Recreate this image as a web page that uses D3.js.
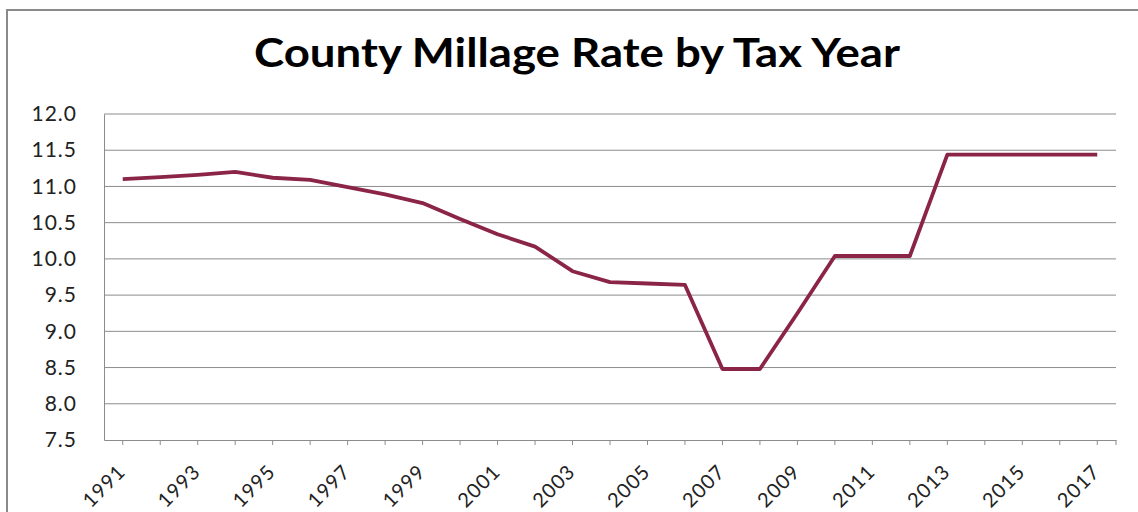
<!DOCTYPE html>
<html>
<head>
  <title>County Millage Rate by Tax Year</title>
  <script src="https://d3js.org/d3.v7.min.js"></script>
  <style>
    body { margin: 0; background: #fff; }
    text { font-family: Lato, "Open Sans", sans-serif; fill: #222; }
  </style>
</head>
<body>
  <div id="chart-container"></div>
  <script>

var years = ["1991","1992","1993","1994","1995","1996","1997","1998","1999","2000",
             "2001","2002","2003","2004","2005","2006","2007","2008","2009","2010",
             "2011","2012","2013","2014","2015","2016","2017"];
var millage = [11.10, 11.13, 11.16, 11.20, 11.12, 11.09, 10.99, 10.89, 10.77, 10.55,
               10.34, 10.17, 9.83, 9.68, 9.66, 9.64, 8.48, 8.48, 9.25, 10.04,
               10.04, 10.04, 11.44, 11.44, 11.44, 11.44, 11.44];
var yTicks = [7.5, 8.0, 8.5, 9.0, 9.5, 10.0, 10.5, 11.0, 11.5, 12.0];
var xLabels = years.filter((d, i) => i % 2 === 0);

var W = 1138, H = 512;
var margin = { top: 114, right: 22, bottom: 72, left: 104 };
var width = W - margin.left - margin.right;
var height = H - margin.top - margin.bottom;

var svg = d3.select("#chart-container")
  .append("svg")
  .attr("width", W)
  .attr("height", H);

// outer frame
svg.append("rect")
  .attr("x", 7).attr("y", 10)
  .attr("width", 1140).attr("height", 520)
  .attr("fill", "none")
  .attr("stroke", "#8a8a8a")
  .attr("stroke-width", 2);

svg.append("text")
  .attr("x", 577)
  .attr("y", 67)
  .attr("text-anchor", "middle")
  .attr("textLength", 646)
  .attr("lengthAdjust", "spacingAndGlyphs")
  .style("font-size", "40px")
  .style("font-weight", "bold")
  .style("fill", "#000")
  .text("County Millage Rate by Tax Year");

var g = svg.append("g")
  .attr("transform", "translate(" + margin.left + "," + margin.top + ")");

var x = d3.scaleBand()
  .domain(years)
  .range([0, width]);

var y = d3.scaleLinear()
  .domain([7.5, 12.0])
  .range([height, 0]);

// gridlines
g.append("g")
  .selectAll("line")
  .data(yTicks.slice(1))
  .join("line")
  .attr("x1", 0)
  .attr("x2", width)
  .attr("y1", d => y(d))
  .attr("y2", d => y(d))
  .attr("stroke", "#8c8c8c")
  .attr("stroke-width", 1);

// y axis
var yAxis = g.append("g")
  .call(d3.axisLeft(y).tickValues(yTicks).tickFormat(d3.format(".1f")).tickSize(0).tickPadding(27));
yAxis.select(".domain").attr("stroke", "#8c8c8c");
yAxis.selectAll("text")
  .style("font-size", "21px")
  .style("letter-spacing", "1px")
  .style("fill", "#222");

// x axis
var xAxis = g.append("g")
  .attr("transform", "translate(0," + height + ")")
  .call(d3.axisBottom(x).tickSize(5).tickSizeOuter(0)
    .tickFormat(d => xLabels.includes(d) ? d : ""));
xAxis.select(".domain").attr("stroke", "#8c8c8c");
xAxis.selectAll(".tick line").attr("stroke", "#8c8c8c");
xAxis.selectAll("text")
  .style("font-size", "20px")
  .style("letter-spacing", "1px")
  .style("fill", "#222")
  .style("text-anchor", "end")
  .attr("x", 0)
  .attr("y", 0)
  .attr("dy", 0)
  .attr("transform", "translate(4,33) rotate(-45)");

// end tick on the right
xAxis.append("line")
  .attr("x1", width).attr("x2", width)
  .attr("y1", 0).attr("y2", 5)
  .attr("stroke", "#8c8c8c");

var line = d3.line()
  .x((d, i) => x(years[i]) + x.bandwidth() / 2)
  .y(d => y(d));

g.append("path")
  .datum(millage)
  .attr("fill", "none")
  .attr("stroke", "#8b2548")
  .attr("stroke-width", 3.8)
  .attr("stroke-linejoin", "round")
  .attr("d", line);

</script>
</body>
</html>
